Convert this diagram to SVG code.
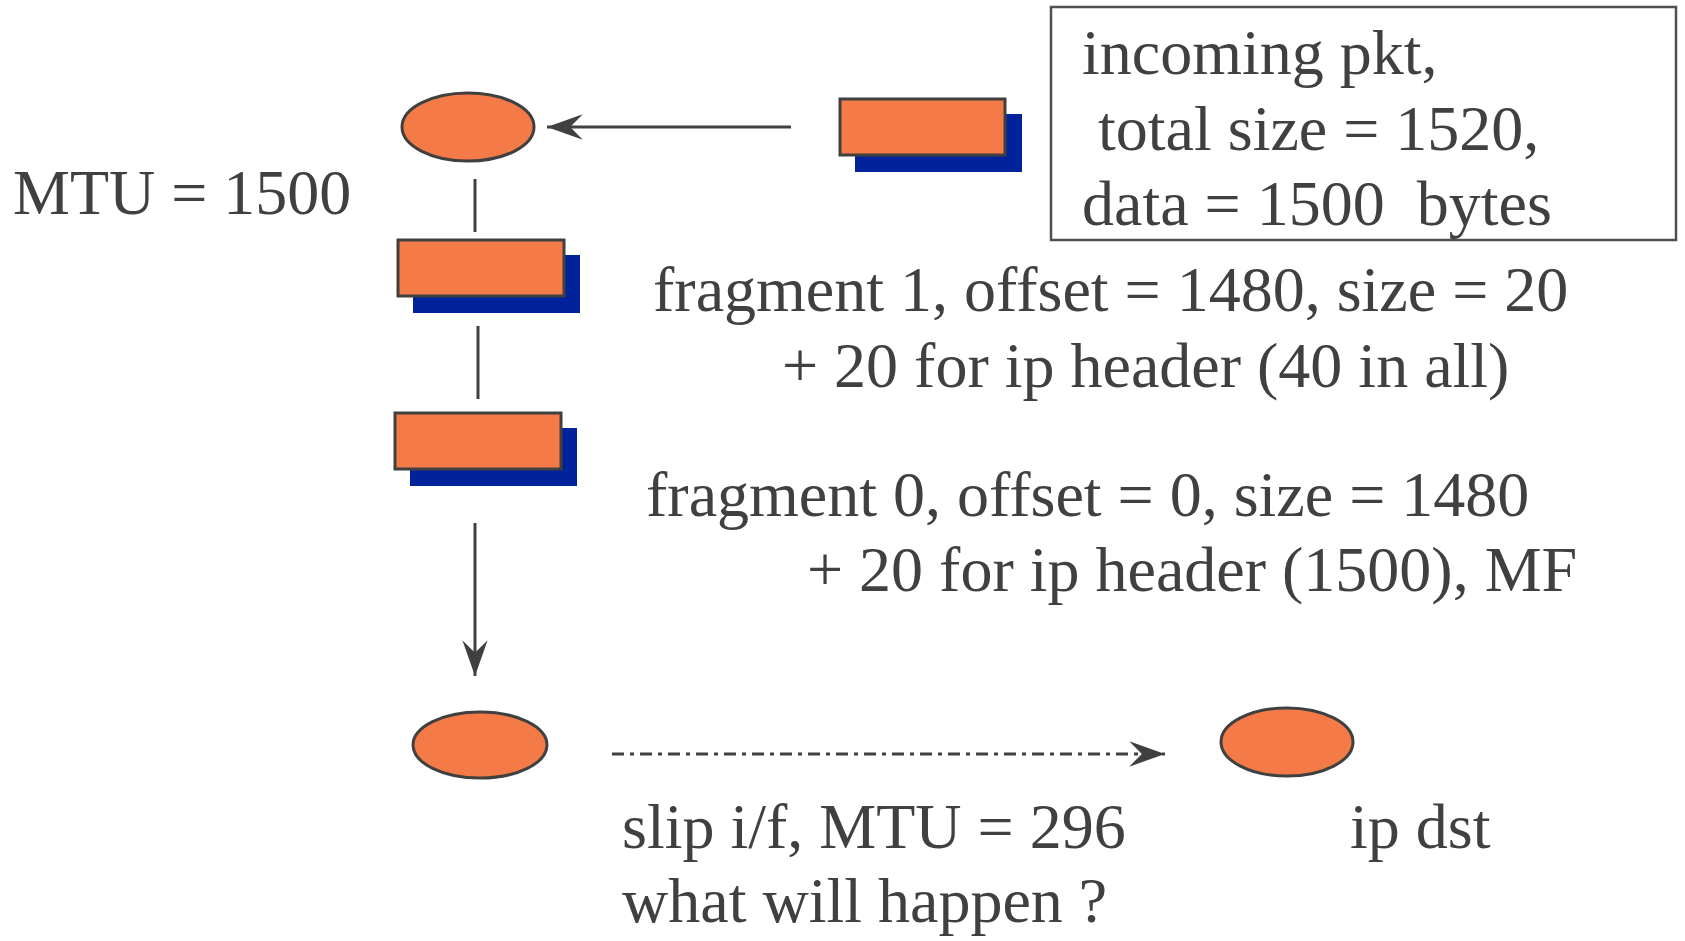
<svg xmlns="http://www.w3.org/2000/svg" width="1685" height="941" viewBox="0 0 1685 941">
<style>
.t{font-family:"Liberation Serif","Times New Roman",serif;font-size:64px;fill:#404040}
.node{fill:#F47B48;stroke:#404040;stroke-width:3}
.shadow{fill:#00239C}
.ln{stroke:#404040;stroke-width:3;fill:none}
</style>
<defs>
<marker id="ah" markerUnits="userSpaceOnUse" markerWidth="40" markerHeight="30" viewBox="-36 -14 38 28" refX="0" refY="0" orient="auto">
<path d="M0,0 L-34,-12 L-22,0 L-34,12 Z" fill="#404040"/>
</marker>
</defs>
<rect width="1685" height="941" fill="#fff"/>
<g id="router-top"><ellipse class="node" cx="468" cy="127" rx="66" ry="34"/></g>
<g id="pkt-in"><rect class="shadow" x="855" y="114" width="167" height="58"/><rect class="node" x="840" y="99" width="165" height="56"/></g>
<g id="frag1"><rect class="shadow" x="413" y="255" width="167" height="58"/><rect class="node" x="398" y="240" width="166" height="56"/></g>
<g id="frag0"><rect class="shadow" x="410" y="428" width="167" height="58"/><rect class="node" x="395" y="413" width="166" height="56"/></g>
<g id="router-bottom"><ellipse class="node" cx="480" cy="745" rx="67" ry="33"/></g>
<g id="ip-dst"><ellipse class="node" cx="1287" cy="742" rx="66" ry="34"/></g>
<g id="info-box"><rect x="1051" y="7" width="625" height="233" fill="none" stroke="#505050" stroke-width="2.5"/>
<text class="t" x="1082" y="74">incoming pkt,</text>
<text class="t" x="1098" y="150">total size = 1520,</text>
<text class="t" x="1082" y="225" xml:space="preserve">data = 1500  bytes</text></g>
<g id="connectors">
<line class="ln" x1="791" y1="127" x2="547" y2="127" marker-end="url(#ah)"/>
<line class="ln" x1="475" y1="179" x2="475" y2="232"/>
<line class="ln" x1="478" y1="326" x2="478" y2="399"/>
<line class="ln" x1="475" y1="523" x2="475" y2="676" marker-end="url(#ah)"/>
<line class="ln" x1="612" y1="754" x2="1165" y2="754" stroke-width="3.5" stroke-dasharray="12 6 4 6" marker-end="url(#ah)"/>
</g>
<g id="labels">
<text class="t" x="13" y="214">MTU = 1500</text>
<text class="t" x="653" y="311">fragment 1, offset = 1480, size = 20</text>
<text class="t" x="782" y="387">+ 20 for ip header (40 in all)</text>
<text class="t" x="646" y="516">fragment 0, offset = 0, size = 1480</text>
<text class="t" x="807" y="591">+ 20 for ip header (1500), MF</text>
<text class="t" x="622" y="848">slip i/f, MTU = 296</text>
<text class="t" x="622" y="922">what will happen ?</text>
<text class="t" x="1350" y="848">ip dst</text>
</g>
</svg>
